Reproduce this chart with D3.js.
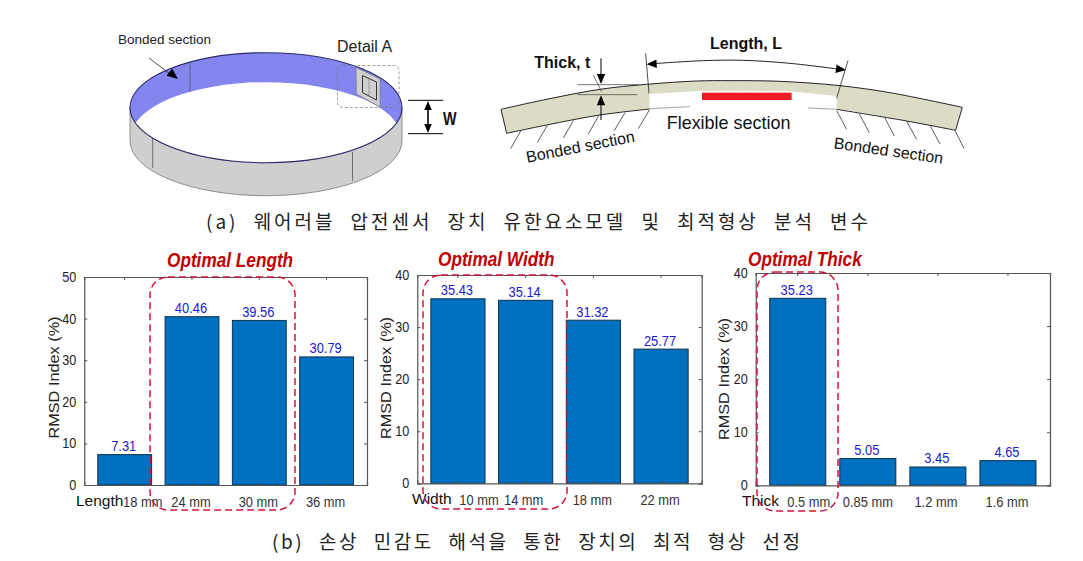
<!DOCTYPE html>
<html>
<head>
<meta charset="utf-8">
<script src="https://cdn.jsdelivr.net/npm/d3@7"></script>
<style>
    html, body { margin: 0; padding: 0; background: white; }
    svg { display: block; }
    text { font-family: "Liberation Sans", Arial, sans-serif; }
    .caption { font-family: "Noto Sans CJK KR", sans-serif; font-size: 19px; fill: #222; word-spacing: 8px; }
</style>
</head>
<body>
<div id="chart"></div>
<script>
    // Values
    const lengthLabels = ['18 mm', '24 mm', '30 mm', '36 mm'];
    const lengthValues = [7.31, 40.46, 39.56, 30.79];
    const widthLabels = ['10 mm', '14 mm', '18 mm', '22 mm'];
    const widthValues = [35.43, 35.14, 31.32, 25.77];
    const thickLabels = ['0.5 mm', '0.85 mm', '1.2 mm', '1.6 mm'];
    const thickValues = [35.23, 5.05, 3.45, 4.65];
    const lengthTicks = [0, 10, 20, 30, 40, 50];
    const widthTicks = [0, 10, 20, 30, 40];
    const thickTicks = [0, 10, 20, 30, 40];

    const barFill = '#0070c0';
    const red = '#d4143c';

    const svg = d3.select('#chart').append('svg')
        .attr('width', 1083).attr('height', 561);

    svg.append('defs').append('clipPath').attr('id', 'ringClip')
        .append('ellipse')
        .attr('cx', 266).attr('cy', 107.7).attr('rx', 136).attr('ry', 55);

    function arrowHead(g, x, y, angle, size) {
        g.append('path')
            .attr('d', `M0,0L${-size},${size * 0.42}L${-size},${-size * 0.42}Z`)
            .attr('transform', `translate(${x},${y}) rotate(${angle})`)
            .style('fill', 'black');
    }

    // the source picture is stretched, so the text is narrower than its height
    function squeeze(sel, factor) {
        sel.each(function () {
            this.setAttribute('textLength', this.getComputedTextLength() * factor);
            this.setAttribute('lengthAdjust', 'spacingAndGlyphs');
        });
    }

    drawRing(svg.append('g'));
    drawStrip(svg.append('g').attr('transform', 'translate(490,20) scale(0.3333)'));

    // One bar panel
    function drawPanel(cfg) {
        const g = svg.append('g');
        const x = d3.scaleBand().domain(cfg.labels).range([cfg.left, cfg.right]).padding(0.2);
        const y = d3.scaleLinear().domain([0, cfg.ticks[cfg.ticks.length - 1]]).range([cfg.bottom, cfg.top]);
        const rows = cfg.labels.map((label, i) => ({ label, value: cfg.values[i] }));

        g.selectAll('.bar')
            .data(rows)
            .join('rect')
            .attr('class', 'bar')
            .attr('x', d => x(d.label))
            .attr('y', d => y(d.value))
            .attr('width', x.bandwidth())
            .attr('height', d => y(0) - y(d.value))
            .style('fill', barFill)
            .style('stroke', '#12324a')
            .style('stroke-width', 1);

        g.selectAll('.value')
            .data(rows)
            .join('text')
            .attr('class', 'value')
            .attr('x', d => x(d.label) + x.bandwidth() / 2 - 1)
            .attr('y', d => y(d.value) - 3.5)
            .attr('text-anchor', 'middle')
            .style('font-size', '14px')
            .style('fill', '#1a1ad0')
            .text(d => d.value.toFixed(2))
            .call(squeeze, 0.92);

        const axisColor = '#555';
        const left = g.append('g').attr('transform', `translate(${cfg.left},0)`)
            .call(d3.axisLeft(y).tickValues(cfg.ticks).tickSize(-3).tickPadding(8));
        const right = g.append('g').attr('transform', `translate(${cfg.right},0)`)
            .call(d3.axisRight(y).tickValues(cfg.ticks).tickSize(-3).tickFormat(''));
        const top = g.append('g').attr('transform', `translate(0,${cfg.top})`)
            .call(d3.axisTop(x).tickSize(-3).tickFormat(''));
        const bottom = g.append('g').attr('transform', `translate(0,${cfg.bottom})`)
            .call(d3.axisBottom(x).tickSize(-3).tickPadding(12));

        [left, right, top, bottom].forEach(a => {
            a.selectAll('.domain').style('stroke', axisColor).style('stroke-width', 1.2);
            a.selectAll('.tick line').style('stroke', axisColor);
        });
        left.selectAll('text').style('font-size', '14px').style('fill', '#222')
            .attr('font-family', null)
            .call(squeeze, 0.9);
        bottom.selectAll('text')
            .attr('dx', (d, i) => cfg.labelShift[i])
            .attr('font-family', null)
            .style('font-size', '14px').style('fill', '#333')
            .call(squeeze, 0.92);

        // axis name typed next to the first category
        g.append('text')
            .attr('x', cfg.nameX).attr('y', cfg.bottom + 21)
            .style('font-size', '15.5px').style('fill', '#111')
            .text(cfg.name);

        g.append('text')
            .attr('transform', `translate(${cfg.yLabelX},${cfg.yLabelY}) rotate(-90)`)
            .attr('text-anchor', 'middle')
            .style('font-size', '15.5px').style('fill', '#222')
            .text('RMSD Index (%)')
            .call(squeeze, 1.05);

        g.append('text')
            .attr('x', cfg.titleX).attr('y', cfg.titleY)
            .style('font-size', '20px').style('font-weight', 'bold').style('font-style', 'italic')
            .style('fill', '#c00000')
            .text(cfg.title)
            .call(squeeze, 0.86);

        g.append('rect')
            .attr('x', cfg.box[0]).attr('y', cfg.box[1])
            .attr('width', cfg.box[2]).attr('height', cfg.box[3])
            .attr('rx', 18).attr('ry', 18)
            .style('fill', 'none')
            .style('stroke', red)
            .style('stroke-width', 1.5)
            .style('stroke-dasharray', '7 4');
    }

    drawPanel({
        labels: lengthLabels, values: lengthValues, ticks: lengthTicks,
        left: 84.3, right: 367, top: 277, bottom: 485,
        labelShift: [18, -1, -1, -1], name: 'Length', nameX: 76,
        yLabelX: 59, yLabelY: 377.5,
        title: 'Optimal Length', titleX: 167, titleY: 267,
        box: [150, 277, 145, 233]
    });
    drawPanel({
        labels: widthLabels, values: widthValues, ticks: widthTicks,
        left: 417.3, right: 701.7, top: 275, bottom: 483.3,
        labelShift: [21, -2, -1, -1], name: 'Width', nameX: 412,
        yLabelX: 391, yLabelY: 378,
        title: 'Optimal Width', titleX: 438, titleY: 266,
        box: [423, 275, 144, 234]
    });
    drawPanel({
        labels: thickLabels, values: thickValues, ticks: thickTicks,
        left: 755.7, right: 1050, top: 273, bottom: 485.3,
        labelShift: [11, 0, -2, -1], name: 'Thick', nameX: 742,
        yLabelX: 729, yLabelY: 379,
        title: 'Optimal Thick', titleX: 748, titleY: 266,
        box: [757, 272, 81, 239]
    });

    // Captions
    svg.append('text').attr('class', 'caption')
        .attr('x', 206).attr('y', 229)
        .attr('textLength', 662).attr('lengthAdjust', 'spacing')
        .text('(a) 웨어러블 압전센서 장치 유한요소모델 및 최적형상 분석 변수');
    svg.append('text').attr('class', 'caption')
        .attr('x', 272).attr('y', 549)
        .attr('textLength', 528).attr('lengthAdjust', 'spacing')
        .text('(b) 손상 민감도 해석을 통한 장치의 최적 형상 선정');

    // Ring schematic, top left
    function drawRing(g) {
        const cx = 266, cy = 107.7, rx = 136, ry = 55, h = 33;
        const l = cx - rx, r = cx + rx;

        g.append('path')
            .attr('d', `M${l},${cy}A${rx},${ry} 0 0 0 ${r},${cy}L${r},${cy + h}A${rx},${ry} 0 0 1 ${l},${cy + h}Z`)
            .style('fill', '#cfcfcf').style('stroke', '#777').style('stroke-width', 0.8);
        g.append('ellipse')
            .attr('cx', cx).attr('cy', cy).attr('rx', rx).attr('ry', ry)
            .style('fill', '#8585f0');
        g.append('ellipse')
            .attr('cx', cx).attr('cy', cy + 29.5).attr('rx', rx - 1).attr('ry', ry)
            .attr('clip-path', 'url(#ringClip)')
            .style('fill', 'white');
        g.append('ellipse')
            .attr('cx', cx).attr('cy', cy).attr('rx', rx).attr('ry', ry)
            .style('fill', 'none').style('stroke', '#2a2a6a').style('stroke-width', 1.1);

        // seams
        [[190, 63, 190, 92], [152.7, 138, 152.7, 168], [352.5, 152, 352.5, 181]].forEach(s => {
            g.append('line')
                .attr('x1', s[0]).attr('y1', s[1]).attr('x2', s[2]).attr('y2', s[3])
                .style('stroke', '#555').style('stroke-width', 0.8);
        });

        // detail A patch
        g.append('path').attr('d', 'M356,67.5L380,79L380,107L356.5,94Z')
            .style('fill', '#cfcfcf').style('stroke', '#777').style('stroke-width', 0.6);
        g.append('path').attr('d', 'M362.5,75.5L376.5,82L376.5,100L362.5,92.5Z')
            .style('fill', 'none').style('stroke', '#333').style('stroke-width', 1);
        g.append('line').attr('x1', 369).attr('y1', 79).attr('x2', 369).attr('y2', 95)
            .style('stroke', '#888').style('stroke-width', 0.7);
        g.append('rect')
            .attr('x', 337.5).attr('y', 65.5).attr('width', 61.5).attr('height', 42)
            .attr('rx', 5).attr('ry', 5)
            .style('fill', 'none').style('stroke', '#777')
            .style('stroke-width', 0.7).style('stroke-dasharray', '3 2');

        g.append('text').attr('x', 118).attr('y', 44)
            .style('font-size', '13.5px').style('fill', '#222').text('Bonded section');
        g.append('text').attr('x', 337).attr('y', 52)
            .style('font-size', '16px').style('fill', '#222').text('Detail A');

        g.append('line').attr('x1', 149).attr('y1', 58).attr('x2', 170).attr('y2', 74)
            .style('stroke', '#222').style('stroke-width', 0.8);
        arrowHead(g, 178, 79, 38, 11);

        // W dimension
        [100.3, 133.7].forEach(yy => {
            g.append('line').attr('x1', 408).attr('y1', yy).attr('x2', 443).attr('y2', yy)
                .style('stroke', 'black').style('stroke-width', 1);
        });
        g.append('line').attr('x1', 428).attr('y1', 105).attr('x2', 428).attr('y2', 129)
            .style('stroke', 'black').style('stroke-width', 1.6);
        arrowHead(g, 428, 101, -90, 9);
        arrowHead(g, 428, 133, 90, 9);
        g.append('text').attr('x', 443).attr('y', 125)
            .style('font-size', '18px').style('font-weight', 'bold').style('fill', '#111').text('W')
            .call(squeeze, 0.8);
    }

    // Flexible section schematic, drawn in 3x crop units
    function drawStrip(g) {
        const curve = d3.line().curve(d3.curveCatmullRom);
        const upper = [[33, 268], [160, 240], [330, 208], [470, 193], [620, 183], [720, 182], [870, 184], [1050, 197], [1200, 218], [1417, 262]];
        const lower = [[1397, 331], [1250, 303], [1040, 268], [760, 262], [480, 267], [330, 285], [170, 315], [50, 340]];

        g.append('path')
            .attr('d', curve(upper) + 'L' + curve(lower).slice(1) + 'Z')
            .style('fill', '#dcdcc6');
        // flexible window
        g.append('path')
            .attr('d', 'M478,222L620,213L760,212L900,214L1040,228L1040,272L478,272Z')
            .style('fill', 'white');
        g.append('path').attr('d', curve(upper))
            .style('fill', 'none').style('stroke', '#222').style('stroke-width', 3);
        g.append('path').attr('d', curve(lower.slice(0, 3)))
            .style('fill', 'none').style('stroke', '#222').style('stroke-width', 3);
        g.append('path').attr('d', curve(lower.slice(4)))
            .style('fill', 'none').style('stroke', '#222').style('stroke-width', 3);
        g.append('path').attr('d', 'M33,268L50,340M1417,262L1397,331')
            .style('stroke', '#222').style('stroke-width', 3);
        g.append('path').attr('d', 'M955,264L1040,268M480,266L600,260')
            .style('stroke', '#777').style('stroke-width', 2);

        g.append('rect').attr('x', 636).attr('y', 218).attr('width', 269).attr('height', 22)
            .style('fill', '#ee1c25');

        // hatching under the bonded parts
        const hatch = [[92, 333, 62, 386], [172, 316, 142, 368], [250, 302, 220, 354], [325, 289, 295, 342], [405, 278, 373, 332], [478, 270, 445, 326],
            [1040, 272, 1070, 328], [1108, 282, 1138, 338], [1185, 294, 1213, 348], [1250, 304, 1280, 358], [1320, 316, 1350, 372], [1395, 332, 1422, 385]];
        hatch.forEach(h => {
            g.append('line').attr('x1', h[0]).attr('y1', h[1]).attr('x2', h[2]).attr('y2', h[3])
                .style('stroke', '#333').style('stroke-width', 2.4);
        });

        // Length dimension
        g.append('path').attr('d', 'M467,100L477,220M1074,122L1040,235')
            .style('fill', 'none').style('stroke', '#222').style('stroke-width', 2.4);
        g.append('path').attr('d', curve([[490, 131], [640, 122], [760, 121], [900, 130], [1050, 148]]))
            .style('fill', 'none').style('stroke', '#222').style('stroke-width', 3);
        arrowHead(g, 470, 133, 177, 30);
        arrowHead(g, 1068, 150, 7, 30);

        // Thick dimension
        g.append('path').attr('d', 'M262,194L445,194M262,224L442,224M310,165L335,215')
            .style('stroke', '#333').style('stroke-width', 2);
        g.append('line').attr('x1', 333).attr('y1', 115).attr('x2', 333).attr('y2', 170)
            .style('stroke', 'black').style('stroke-width', 3);
        g.append('line').attr('x1', 333).attr('y1', 250).attr('x2', 333).attr('y2', 300)
            .style('stroke', 'black').style('stroke-width', 3);
        arrowHead(g, 333, 192, 90, 30);
        arrowHead(g, 333, 226, -90, 30);

        const label = (x, y, angle, size, weight, txt) => {
            g.append('text')
                .attr('transform', `translate(${x},${y}) rotate(${angle})`)
                .style('font-size', size + 'px').style('font-weight', weight).style('fill', '#111')
                .text(txt);
        };
        label(660, 88, 0, 48, 'bold', 'Length, L');
        label(133, 143, 0, 48, 'bold', 'Thick, t');
        label(530, 327, 0, 54, 'normal', 'Flexible section');
        label(112, 428, -11, 48, 'normal', 'Bonded section');
        label(1030, 385, 8, 48, 'normal', 'Bonded section');
    }
</script>
</body>
</html>
